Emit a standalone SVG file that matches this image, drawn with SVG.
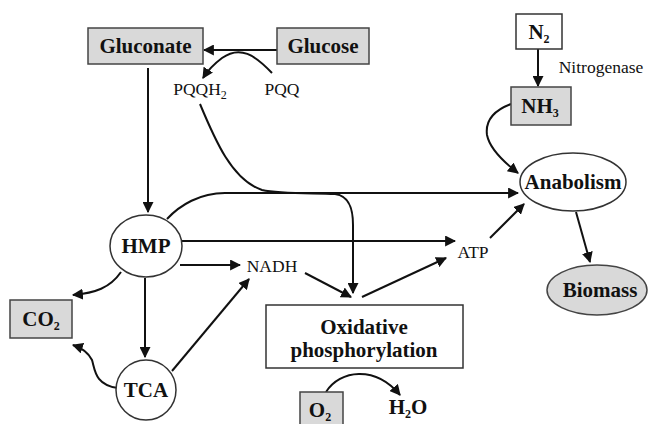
<svg xmlns="http://www.w3.org/2000/svg" width="649" height="424" viewBox="0 0 649 424">
<style>
.box{fill:#fff;stroke:#333;stroke-width:1.5}
.gray{fill:#d9d9d9;stroke:#444;stroke-width:1.5}
.b{font-family:'Liberation Serif','Times New Roman',serif;font-weight:bold;font-size:21px;fill:#111;text-anchor:middle}
.r{font-family:'Liberation Serif','Times New Roman',serif;font-size:17.5px;fill:#111;text-anchor:middle}
.s{font-size:12px}
.e{fill:none;stroke:#111;stroke-width:2;marker-end:url(#ah)}
</style>
<defs>
<marker id="ah" viewBox="0 0 10 10" refX="9" refY="5" markerWidth="5.5" markerHeight="5.5" orient="auto" markerUnits="strokeWidth">
<path d="M0,0 L10,5 L0,10 z" fill="#111"/>
</marker>
</defs>
<g id="connectors">
<path class="e" d="M277,50 L204,50"/>
<path class="e" d="M272,73 C255,55 240,45 222,58 C214,64 208,70 203,78"/>
<path class="e" d="M148,68 L148,212"/>
<path class="e" d="M200,104 C215,140 232,180 262,190 C280,194 310,193 335,194 C350,196 353,210 353,225 L353,293"/>
<path class="e" d="M167,219 C180,205 200,193 225,193 L518,193"/>
<path class="e" d="M182,241 L455,241"/>
<path class="e" d="M180,265 L240,265"/>
<path class="e" d="M305,273 L351,297"/>
<path class="e" d="M362,297 L446,258"/>
<path class="e" d="M490,238 L524,204"/>
<path class="e" d="M538,49 L538,86"/>
<path class="e" d="M511,104 C495,110 485,120 487,135 C490,150 505,163 518,173"/>
<path class="e" d="M576,212 L590,262"/>
<path class="e" d="M121,272 C110,288 95,293 73,295"/>
<path class="e" d="M145,278 L145,357"/>
<path class="e" d="M118,388 C95,385 95,370 92,360 C88,352 82,348 73,345"/>
<path class="e" d="M172,371 L249,279"/>
<path class="e" d="M326,392 C340,370 375,365 400,395"/>
</g>
<g id="gluconate"><rect class="gray" x="88" y="28" width="115" height="36"/><text class="b" x="145.5" y="53">Gluconate</text></g>
<g id="glucose"><rect class="gray" x="277" y="28" width="92" height="36"/><text class="b" x="323" y="53">Glucose</text></g>
<g id="pqqh2"><text class="r" x="200" y="95">PQQH<tspan class="s" dy="4">2</tspan></text></g>
<g id="pqq"><text class="r" x="282" y="95">PQQ</text></g>
<g id="n2"><rect class="box" x="516" y="14" width="46" height="35"/><text class="b" x="539" y="39">N<tspan class="s" dy="4">2</tspan></text></g>
<g id="nitrogenase"><text class="r" x="601" y="73">Nitrogenase</text></g>
<g id="nh3"><rect class="gray" x="511" y="87" width="60" height="38"/><text class="b" x="540" y="113">NH<tspan class="s" dy="4">3</tspan></text></g>
<g id="hmp"><ellipse class="box" cx="146" cy="246" rx="36" ry="31"/><text class="b" x="146" y="253">HMP</text></g>
<g id="nadh"><text class="r" x="272" y="272">NADH</text></g>
<g id="atp"><text class="r" x="473" y="258">ATP</text></g>
<g id="anabolism"><ellipse class="box" cx="573" cy="182" rx="53" ry="29"/><text class="b" x="573" y="189">Anabolism</text></g>
<g id="biomass"><ellipse class="gray" cx="597" cy="290" rx="50" ry="25"/><text class="b" x="600" y="297">Biomass</text></g>
<g id="co2"><rect class="gray" x="10" y="300" width="62" height="38"/><text class="b" x="41" y="326">CO<tspan class="s" dy="4">2</tspan></text></g>
<g id="tca"><circle class="box" cx="146" cy="390" r="30"/><text class="b" x="146" y="397">TCA</text></g>
<g id="oxphos"><rect class="box" x="266" y="305" width="197" height="63"/><text class="b" x="364" y="334">Oxidative</text><text class="b" x="364" y="357">phosphorylation</text></g>
<g id="o2"><rect class="gray" x="300" y="392" width="43" height="40"/><text class="b" x="320" y="417">O<tspan class="s" dy="4">2</tspan></text></g>
<g id="h2o"><text class="b" x="408" y="414">H<tspan class="s" dy="4">2</tspan><tspan dy="-4">O</tspan></text></g>
</svg>
